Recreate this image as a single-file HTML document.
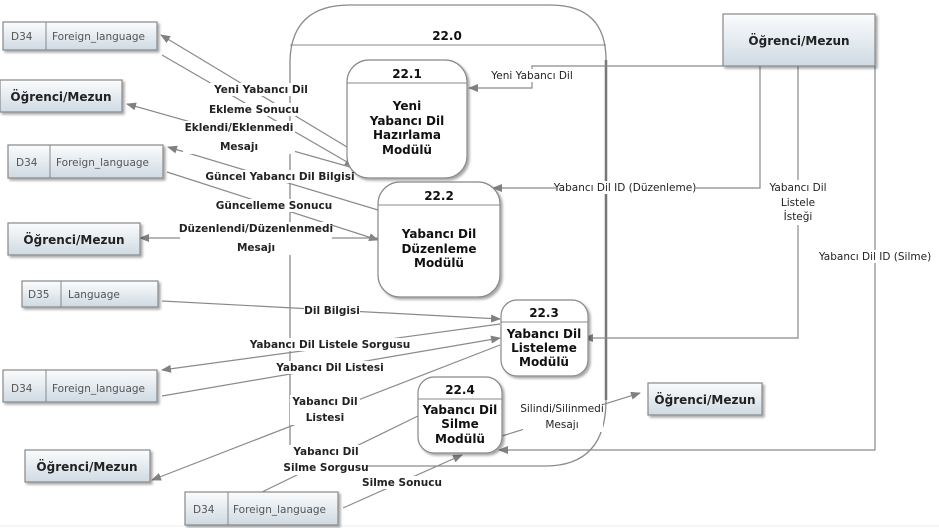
<!DOCTYPE html>
<html><head><meta charset="utf-8"><style>
html,body{margin:0;padding:0;background:#fff;}
svg{display:block;font-family:"DejaVu Sans","Liberation Sans",sans-serif;}
.l{font-size:10.5px;fill:#222;text-anchor:middle;font-weight:bold;}
.n{font-size:12px;fill:#111;text-anchor:middle;font-weight:bold;}
.st{font-size:10.5px;fill:#555;}
.ent{font-size:12px;fill:#222;text-anchor:middle;font-weight:bold;}
</style></head><body>
<svg width="939" height="528" viewBox="0 0 939 528" xmlns="http://www.w3.org/2000/svg">
<defs>
<linearGradient id="g" x1="0" y1="0" x2="0" y2="1"><stop offset="0" stop-color="#fbfcfd"/><stop offset="1" stop-color="#cfdae3"/></linearGradient>
<marker id="a" markerWidth="10" markerHeight="8" refX="9" refY="4" orient="auto" markerUnits="userSpaceOnUse"><path d="M0,0 L10,4 L0,8 z" fill="#808080"/></marker>
<filter id="sh" x="-10%" y="-10%" width="130%" height="140%"><feDropShadow dx="2" dy="2" stdDeviation="1.2" flood-color="#000" flood-opacity="0.35"/></filter>
</defs>
<rect x="0" y="0" width="939" height="528" fill="#fff"/>
<line x1="0" y1="526" x2="939" y2="526" stroke="#eee"/>

<!-- outer 22.0 -->
<path d="M290,460 L290,60 Q292,5 350,5 L550,5 Q606,5 606,60 L606,400 Q606,466 545,466 L365,466" fill="none" stroke="#8a8a8a" stroke-width="1.3"/>
<path d="M606,60 L606,400" stroke="#777" stroke-width="2.5" fill="none"/>
<line x1="290" y1="45" x2="606" y2="45" stroke="#8a8a8a"/>
<text x="447" y="40" class="n">22.0</text>

<!-- connectors -->
<g stroke="#8a8a8a" stroke-width="1.2" fill="none">
<line x1="347" y1="147" x2="161" y2="35" marker-end="url(#a)"/>
<line x1="162" y1="55" x2="354" y2="166" marker-end="url(#a)"/>
<line x1="350" y1="167" x2="127" y2="104" marker-end="url(#a)"/>
<line x1="378" y1="210" x2="168" y2="147" marker-end="url(#a)"/>
<line x1="167" y1="172" x2="378" y2="240" marker-end="url(#a)"/>
<line x1="378" y1="238" x2="140" y2="238" marker-end="url(#a)"/>
<polyline points="723,66 532,66 532,88 469,88" marker-end="url(#a)"/>
<polyline points="760,66 760,188 493,188" marker-end="url(#a)"/>
<polyline points="798,66 798,338 584,338" marker-end="url(#a)"/>
<polyline points="875,66 875,450 499,450" marker-end="url(#a)"/>
<line x1="162" y1="301" x2="500" y2="319" marker-end="url(#a)"/>
<line x1="500" y1="324" x2="162" y2="370" marker-end="url(#a)"/>
<line x1="162" y1="396" x2="500" y2="338" marker-end="url(#a)"/>
<line x1="500" y1="345" x2="152" y2="480" marker-end="url(#a)"/>
<line x1="418" y1="416" x2="262" y2="492"/>
<line x1="343" y1="508" x2="462" y2="455" marker-end="url(#a)"/>
<line x1="502" y1="436" x2="640" y2="393" marker-end="url(#a)"/>
</g>

<!-- processes -->
<g fill="#fff" stroke="#888" stroke-width="1.2" filter="url(#sh)">
<rect x="347" y="60" width="120" height="118" rx="22"/>
<rect x="378" y="182" width="122" height="115" rx="22"/>
<rect x="501" y="300" width="87" height="76" rx="16"/>
<rect x="418" y="377" width="84" height="76" rx="16"/>
</g>
<g stroke="#888">
<line x1="347" y1="83" x2="467" y2="83"/>
<line x1="378" y1="205" x2="500" y2="205"/>
<line x1="501" y1="322" x2="588" y2="322"/>
<line x1="418" y1="399" x2="502" y2="399"/>
</g>
<text x="407" y="78" class="n">22.1</text>
<text x="407" y="110" class="n">Yeni</text>
<text x="407" y="125" class="n">Yabancı Dil</text>
<text x="407" y="139" class="n">Hazırlama</text>
<text x="407" y="154" class="n">Modülü</text>
<text x="439" y="200" class="n">22.2</text>
<text x="439" y="238" class="n">Yabancı Dil</text>
<text x="439" y="253" class="n">Düzenleme</text>
<text x="439" y="267" class="n">Modülü</text>
<text x="544" y="317" class="n">22.3</text>
<text x="544" y="338" class="n">Yabancı Dil</text>
<text x="544" y="352" class="n">Listeleme</text>
<text x="544" y="366" class="n">Modülü</text>
<text x="460" y="394" class="n">22.4</text>
<text x="460" y="414" class="n">Yabancı Dil</text>
<text x="460" y="428" class="n">Silme</text>
<text x="460" y="443" class="n">Modülü</text>

<!-- stores & entities -->
<g fill="url(#g)" stroke="#888" stroke-width="1.2" filter="url(#sh)">
<rect x="3" y="22" width="154" height="28"/>
<rect x="0" y="80" width="122" height="32"/>
<rect x="8" y="145" width="155" height="33"/>
<rect x="8" y="223" width="132" height="32"/>
<rect x="22" y="281" width="136" height="26"/>
<rect x="3" y="370" width="154" height="32"/>
<rect x="25" y="450" width="125" height="32"/>
<rect x="185" y="492" width="153" height="33"/>
<rect x="723" y="14" width="152" height="52"/>
<rect x="648" y="383" width="114" height="32"/>
</g>
<g stroke="#888">
<line x1="46" y1="22" x2="46" y2="50"/>
<line x1="50" y1="145" x2="50" y2="178"/>
<line x1="61" y1="281" x2="61" y2="307"/>
<line x1="46" y1="370" x2="46" y2="402"/>
<line x1="228" y1="492" x2="228" y2="525"/>
</g>
<text x="11" y="40" class="st">D34</text><text x="52" y="40" class="st">Foreign_language</text>
<text x="16" y="166" class="st">D34</text><text x="56" y="166" class="st">Foreign_language</text>
<text x="28" y="298" class="st">D35</text><text x="68" y="298" class="st">Language</text>
<text x="11" y="392" class="st">D34</text><text x="52" y="392" class="st">Foreign_language</text>
<text x="193" y="513" class="st">D34</text><text x="233" y="513" class="st">Foreign_language</text>
<text x="61" y="101" class="ent">Öğrenci/Mezun</text>
<text x="74" y="244" class="ent">Öğrenci/Mezun</text>
<text x="87" y="471" class="ent">Öğrenci/Mezun</text>
<text x="799" y="45" class="ent">Öğrenci/Mezun</text>
<text x="705" y="404" class="ent">Öğrenci/Mezun</text>

<!-- labels -->
<g class="l">
<g fill="#fff" stroke="none">
<rect x="206" y="83" width="110" height="13"/>
<rect x="212" y="103" width="84" height="13"/>
<rect x="183" y="121" width="112" height="33"/>
<rect x="214" y="170" width="132" height="13"/>
<rect x="218" y="199" width="112" height="13"/>
<rect x="180" y="222" width="152" height="33"/>
<rect x="488" y="69" width="88" height="13"/>
<rect x="556" y="181" width="140" height="13"/>
<rect x="764" y="180" width="68" height="45"/>
<rect x="819" y="250" width="112" height="13"/>
<rect x="304" y="304" width="56" height="13"/>
<rect x="254" y="338" width="152" height="13"/>
<rect x="278" y="361" width="104" height="13"/>
<rect x="290" y="395" width="70" height="30"/>
<rect x="285" y="445" width="82" height="30"/>
<rect x="362" y="476" width="80" height="13"/>
<rect x="523" y="402" width="80" height="30"/>
</g>
<text x="261" y="93">Yeni Yabancı Dil</text>
<text x="254" y="113">Ekleme Sonucu</text>
<text x="239" y="131">Eklendi/Eklenmedi</text>
<text x="239" y="150">Mesajı</text>
<text x="280" y="180">Güncel Yabancı Dil Bilgisi</text>
<text x="274" y="209">Güncelleme Sonucu</text>
<text x="256" y="232">Düzenlendi/Düzenlenmedi</text>
<text x="256" y="251">Mesajı</text>
<text x="532" y="79" style="font-weight:normal">Yeni Yabancı Dil</text>
<text x="625" y="191" style="font-weight:normal">Yabancı Dil ID (Düzenleme)</text>
<text x="798" y="191" style="font-weight:normal">Yabancı Dil</text>
<text x="798" y="206" style="font-weight:normal">Listele</text>
<text x="798" y="220" style="font-weight:normal">İsteği</text>
<text x="875" y="260" style="font-weight:normal">Yabancı Dil ID (Silme)</text>
<text x="332" y="314">Dil Bilgisi</text>
<text x="330" y="348">Yabancı Dil Listele Sorgusu</text>
<text x="330" y="371">Yabancı Dil Listesi</text>
<text x="325" y="405">Yabancı Dil</text>
<text x="325" y="421">Listesi</text>
<text x="326" y="455">Yabancı Dil</text>
<text x="326" y="471">Silme Sorgusu</text>
<text x="402" y="486">Silme Sonucu</text>
<text x="562" y="412" style="font-weight:normal">Silindi/Silinmedi</text>
<text x="562" y="428" style="font-weight:normal">Mesajı</text>
</g>
</svg>
</body></html>
